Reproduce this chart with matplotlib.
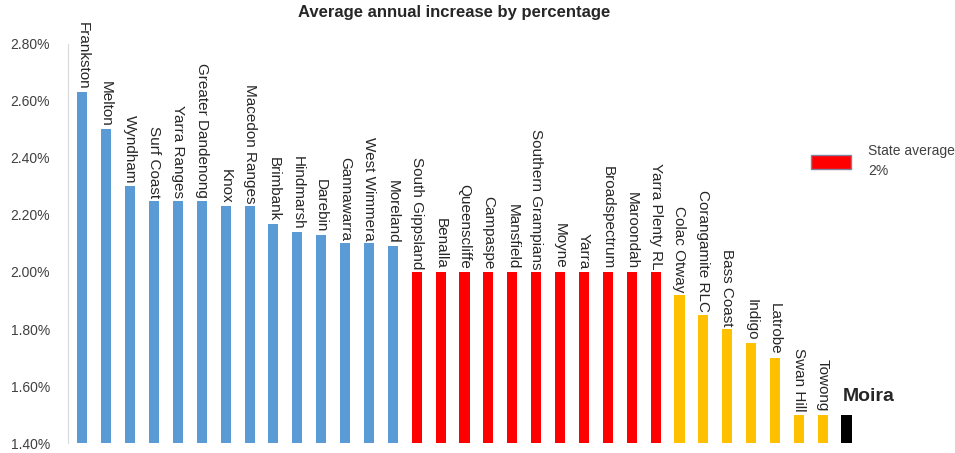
import matplotlib
matplotlib.use("Agg")
import matplotlib.pyplot as plt
import matplotlib.patches as mpatches
from matplotlib.ticker import FuncFormatter

plt.rcParams['font.family'] = ['Liberation Sans', 'DejaVu Sans']

# councils in chart order
blue_names = ["Frankston", "Melton", "Wyndham", "Surf Coast", "Yarra Ranges",
              "Greater Dandenong", "Knox", "Macedon Ranges", "Brimbank", "Hindmarsh",
              "Darebin", "Gannawarra", "West Wimmera", "Moreland"]
blue_vals = [2.63, 2.50, 2.30, 2.25, 2.25, 2.25, 2.23, 2.23, 2.17, 2.14,
             2.13, 2.10, 2.10, 2.09]

red_names = ["South Gippsland", "Benalla", "Queenscliffe", "Campaspe", "Mansfield",
             "Southern Grampians", "Moyne", "Yarra", "Broadspectrum", "Maroondah",
             "Yarra Plenty RL"]
red_vals = [2.00] * 11

yellow_names = ["Colac Otway", "Corangamite RLC", "Bass Coast", "Indigo", "Latrobe",
                "Swan Hill", "Towong"]
yellow_vals = [1.92, 1.85, 1.80, 1.75, 1.70, 1.50, 1.50]

moira_name = "Moira"
moira_val = 1.50

yticks = [1.40, 1.60, 1.80, 2.00, 2.20, 2.40, 2.60, 2.80]

names = blue_names + red_names + yellow_names
vals = blue_vals + red_vals + yellow_vals
colors = ["#5B9BD5"] * len(blue_names) + ["#FF0000"] * len(red_names) + ["#FFC000"] * len(yellow_names)

fig = plt.figure(figsize=(9.55, 4.53), dpi=100)
ax = fig.add_axes([0.0712, 0.022, 0.8304, 0.881])

base = yticks[0]
xs = list(range(len(names)))
ax.bar(xs, [v - base for v in vals], bottom=base, width=0.42, color=colors)
mx = len(names)
ax.bar([mx], [moira_val - base], bottom=base, width=0.48, color="black")

for x, n, v in zip(xs, names, vals):
    ax.annotate(n, (x, v), xytext=(0, 2), textcoords="offset points",
                rotation=270, ha="center", va="bottom", fontsize=11, color="#262626")
ax.annotate(moira_name, (mx - 0.15, moira_val), xytext=(0, 7), textcoords="offset points",
            ha="left", va="bottom", fontsize=14, fontweight="bold", color="#262626")

ax.set_xlim(-0.6, mx + 0.6)
ax.set_ylim(yticks[0], yticks[-1])
ax.set_yticks(yticks)
ax.yaxis.set_major_formatter(FuncFormatter(lambda v, p: f"{v:.2f}%"))
ax.set_xticks([])
ax.tick_params(axis="y", length=0, labelsize=10, labelcolor="#404040", pad=13)
for s in ["top", "right", "bottom"]:
    ax.spines[s].set_visible(False)
ax.spines["left"].set_color("#d9d9d9")

fig.suptitle("Average annual increase by percentage", x=0.476, y=0.99,
             fontsize=12, fontweight="bold", color="#262626")

red_patch = mpatches.Patch(facecolor="#FF0000", edgecolor="#8080a0", label="State average\n2%")
leg = fig.legend(handles=[red_patch], loc="upper left", bbox_to_anchor=(0.836, 0.71),
                 frameon=False, handlelength=2.9, handleheight=1.1, handletextpad=1.2,
                 labelcolor="#404040", prop={"size": 10})
for t in leg.get_texts():
    t.set_multialignment("left")
    t.set_linespacing(1.6)

fig.savefig("out.png", dpi=100)
